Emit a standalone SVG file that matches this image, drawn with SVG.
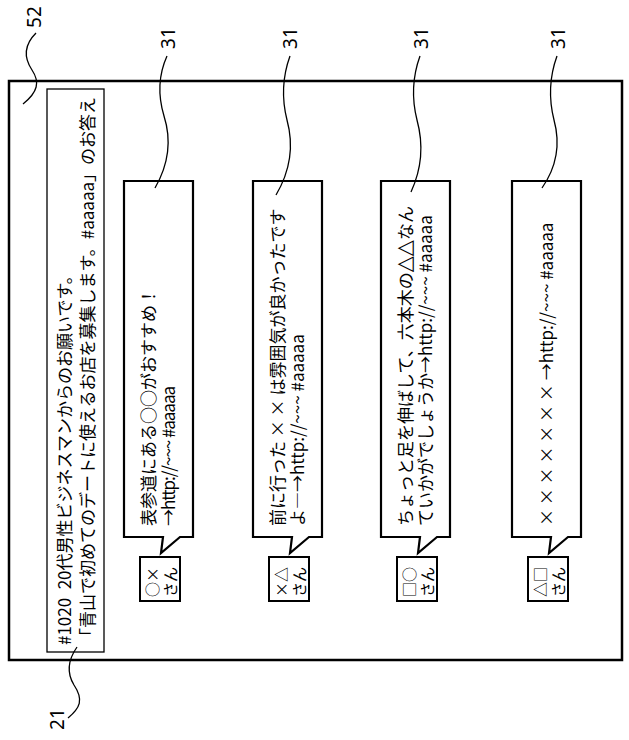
<svg xmlns="http://www.w3.org/2000/svg" width="629" height="740" viewBox="0 0 629 740">
<style>
.frame{fill:none;stroke:#000;stroke-width:2.5}
.box{fill:#fff;stroke:#000;stroke-width:1.3}
.bubble{fill:#fff;stroke:#000;stroke-width:2.2}
.av{fill:#fff;stroke:#000;stroke-width:2}
.lead{fill:none;stroke:#000;stroke-width:1.3}
.t{font-family:"Noto Sans CJK JP",sans-serif;font-size:17px;fill:#000;dominant-baseline:central}
.a{font-family:"Noto Sans CJK JP",sans-serif;font-size:15px;fill:#000;dominant-baseline:central}
.num{font-family:"Noto Sans","Liberation Sans",sans-serif;font-size:19px;fill:#000;text-anchor:middle;dominant-baseline:central}
.sym{font-family:"DejaVu Sans",sans-serif;font-size:21px;fill:#000}
</style>
<rect width="629" height="740" fill="#fff"/>
<g id="screen52">
<rect class="frame" x="9" y="81" width="613" height="579"/>
</g>
<g id="header21">
<rect class="box" x="47" y="89" width="57" height="563"/>
<text class="t" transform="translate(63,645) rotate(-90)">#1020&#8194;20代男性ビジネスマンからのお願いです。</text>
<text class="t" transform="translate(86,645) rotate(-90)">「青山で初めてのデートに使えるお店を募集します。#aaaaa」のお答え</text>
</g>
<g id="post1" transform="translate(124,0)">
<path class="bubble" d="M0,181 H69 V537 H56 L37,553 L39,537 H0 Z"/>
<text class="t" transform="translate(23,526) rotate(-90)">表参道にある○○がおすすめ！</text>
<text class="t" transform="translate(43,526) rotate(-90)" textLength="140">→http://~~~ #aaaaa</text>
<rect class="av" x="16" y="557" width="40" height="44"/>
<text class="a" transform="translate(27,597) rotate(-90)">○×</text>
<text class="a" transform="translate(45,597) rotate(-90)">さん</text>
</g>
<g id="post2" transform="translate(253,0)">
<path class="bubble" d="M0,181 H69 V537 H56 L37,553 L39,537 H0 Z"/>
<text class="t" transform="translate(23,526) rotate(-90)">前に行った × × は雰囲気が良かったです</text>
<text class="t" transform="translate(43,526) rotate(-90)">よ―→http://~~~ #aaaaa</text>
<rect class="av" x="16" y="557" width="40" height="44"/>
<text class="a" transform="translate(27,597) rotate(-90)">×△</text>
<text class="a" transform="translate(45,597) rotate(-90)">さん</text>
</g>
<g id="post3" transform="translate(381,0)">
<path class="bubble" d="M0,181 H69 V537 H56 L37,553 L39,537 H0 Z"/>
<text class="t" transform="translate(23,526) rotate(-90)">ちょっと足を伸ばして、六本木の<tspan class="sym">△△</tspan>なん</text>
<text class="t" transform="translate(43,526) rotate(-90)">ていかがでしょうか→http://~~~ #aaaaa</text>
<rect class="av" x="16" y="557" width="40" height="44"/>
<text class="a" transform="translate(27,597) rotate(-90)">□○</text>
<text class="a" transform="translate(45,597) rotate(-90)">さん</text>
</g>
<g id="post4" transform="translate(512,0)">
<path class="bubble" d="M0,181 H69 V537 H56 L37,553 L39,537 H0 Z"/>
<text class="t" transform="translate(33,526) rotate(-90)">× × × × × × × →http://~~~ #aaaaa</text>
<rect class="av" x="16" y="557" width="40" height="44"/>
<text class="a" transform="translate(27,597) rotate(-90)">△□</text>
<text class="a" transform="translate(45,597) rotate(-90)">さん</text>
</g>
<g id="labels">
<text class="num" transform="translate(34,17) rotate(-90)">52</text>
<text class="num" transform="translate(168,38) rotate(-90)">31</text>
<text class="num" transform="translate(290,38) rotate(-90)">31</text>
<text class="num" transform="translate(421,38) rotate(-90)">31</text>
<text class="num" transform="translate(558,38) rotate(-90)">31</text>
<text class="num" transform="translate(57,719) rotate(-90)">21</text>
</g>
<g id="connectors">
<path class="lead" d="M36,33 C24,45 24,58 32,70 C40,82 38,92 23,104"/>
<path class="lead" d="M167,56 C158,76 158,96 164,116 C171,138 170,162 155,188"/>
<path class="lead" d="M290,56 C282,78 282,100 287,120 C293,142 292,168 276,195"/>
<path class="lead" d="M420,56 C412,78 412,100 417,120 C423,142 423,166 411,192"/>
<path class="lead" d="M557,56 C549,78 549,100 554,120 C560,142 558,165 542,188"/>
<path class="lead" d="M77,647 C68,660 66,672 74,685 C84,700 80,708 68,718"/>
</g>
</svg>
